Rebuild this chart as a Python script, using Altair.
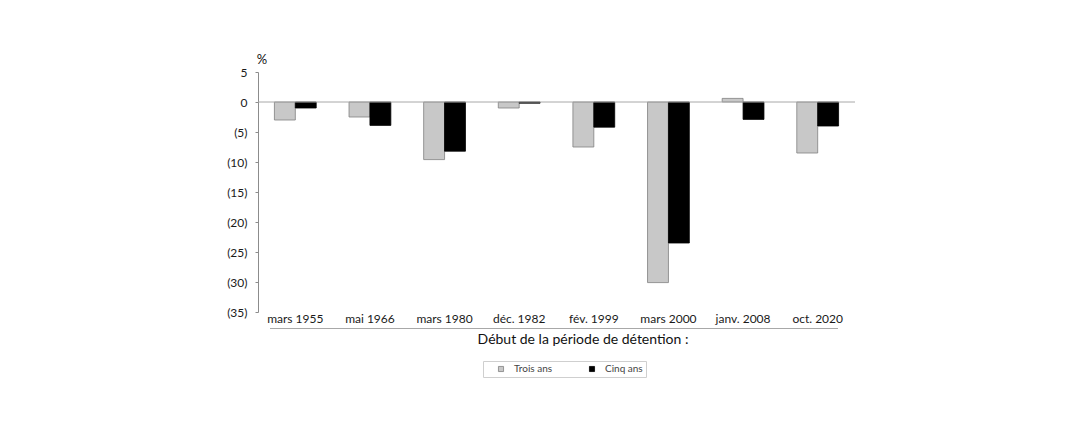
import altair as alt
import pandas as pd

categories = ["mars 1955", "mai 1966", "mars 1980", "déc. 1982",
              "fév. 1999", "mars 2000", "janv. 2008", "oct. 2020"]
trois_ans = [-3.0, -2.5, -9.6, -1.0, -7.5, -30.1, 0.6, -8.5]
cinq_ans = [-1.0, -3.9, -8.2, -0.2, -4.2, -23.5, -2.9, -4.0]
series = ["Trois ans", "Cinq ans"]
y_ticks = [5, 0, -5, -10, -15, -20, -25, -30, -35]

rows = []
for i, c in enumerate(categories):
    rows.append({"cat": c, "serie": series[0], "val": trois_ans[i]})
    rows.append({"cat": c, "serie": series[1], "val": cinq_ans[i]})
df = pd.DataFrame(rows)
one = pd.DataFrame({"k": [0]})

FONT = "Lato"

bars = alt.Chart(df).mark_bar(strokeWidth=0.8).encode(
    x=alt.X("cat:N", sort=categories,
            scale=alt.Scale(paddingInner=0.44, paddingOuter=0.22),
            axis=alt.Axis(title=None, domain=False, ticks=False, labelPadding=1,
                          labelAngle=0, labelFont=FONT, labelFontSize=12,
                          labelColor="#1a1a1a")),
    xOffset=alt.XOffset("serie:N", sort=series, scale=alt.Scale(paddingInner=0, paddingOuter=0)),
    y=alt.Y("val:Q", scale=alt.Scale(domain=[-35, 5], nice=False, zero=False),
            axis=alt.Axis(title=None, values=y_ticks, grid=False, labelOverlap=False,
                          tickCount=9,
                          domainColor="#8c8c8c", tickColor="#8c8c8c", tickSize=3,
                          labelPadding=8, labelFont=FONT, labelFontSize=12,
                          labelColor="#1a1a1a",
                          labelExpr="datum.value < 0 ? '(' + (-datum.value) + ')' : '' + datum.value")),
    color=alt.Color("serie:N", sort=series,
                    scale=alt.Scale(domain=series, range=["#c8c8c8", "#000000"]),
                    legend=alt.Legend(title=None, orient="none", legendX=225, legendY=289,
                                      direction="horizontal", symbolType="square",
                                      symbolSize=26, symbolStrokeColor="#808080",
                                      symbolStrokeWidth=0.8, symbolOffset=10,
                                      labelFont=FONT, labelFontSize=10, labelColor="#444",
                                      labelOffset=8, columnPadding=24,
                                      labelExpr="datum.label == 'Cinq ans' ? datum.label + '\u00a0\u00a0\u00a0\u00a0\u00a0\u00a0\u00a0\u00a0\u00a0\u00a0' : datum.label",
                                      padding=3, strokeColor="#cfcfcf")),
    stroke=alt.Stroke("serie:N", sort=series,
                      scale=alt.Scale(domain=series, range=["#808080", "#000000"]),
                      legend=None),
)

zero = alt.Chart(one).mark_rule(color="#a8a8a8", strokeWidth=1).encode(y=alt.datum(0))

under = alt.Chart(one).mark_rule(color="#a8a8a8", strokeWidth=1.2).encode(
    x=alt.value(12), x2=alt.value(580), y=alt.value(256.5))

title = alt.Chart(one).mark_text(text="Début de la période de détention :", font=FONT,
                                 fontSize=14, color="#111", align="center",
                                 baseline="middle").encode(
    x=alt.value(325), y=alt.value(268))

pct = alt.Chart(one).mark_text(text="%", font=FONT, fontSize=13, color="#111",
                               align="center", baseline="middle").encode(
    x=alt.value(4), y=alt.value(-12))

chart = alt.layer(bars, zero, under, title, pct).properties(
    width=597, height=240,
    padding={"left": 250, "top": 64, "right": 200, "bottom": 100},
    autosize="none",
).configure(background="white").configure_view(stroke=None)

chart.save("out.html", embed_options={"renderer": "svg", "actions": False})
